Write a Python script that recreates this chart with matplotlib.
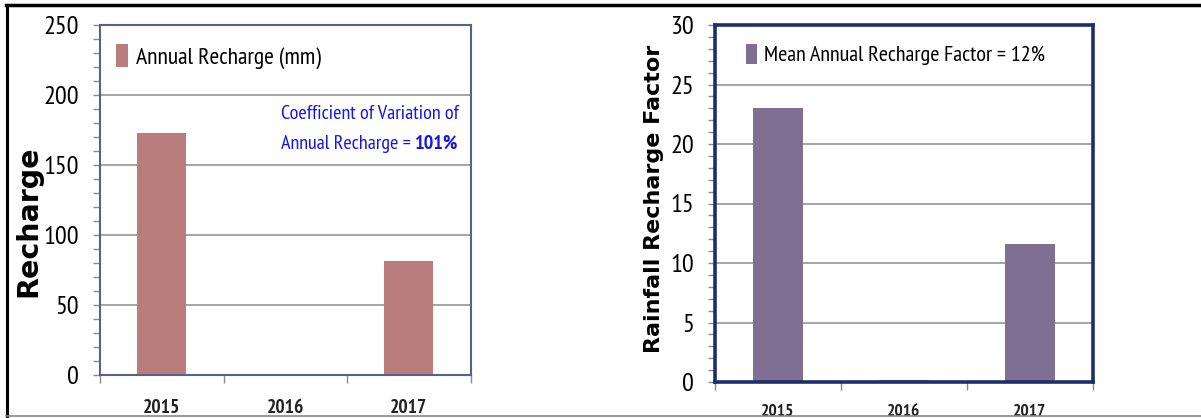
"""
Annual recharge and rainfall recharge factor, 2015-2017, side by side.
"""
import matplotlib
matplotlib.use('Agg')
import matplotlib.pyplot as plt
from matplotlib.lines import Line2D
from matplotlib.ticker import MultipleLocator, FixedLocator, NullFormatter

years = ['2015', '2016', '2017']
recharge_mm = [173, 0.5, 81.5]
recharge_factor = [23.0, 0.15, 11.6]

recharge_label = 'Annual Recharge (mm)'
factor_label = 'Mean Annual Recharge Factor = 12%'
cv_line1 = 'Coefficient of Variation of'
cv_line2 = 'Annual Recharge = '
cv_value = '101%'

plt.rcParams['font.family'] = ['PT Sans Narrow', 'Liberation Sans', 'DejaVu Sans']

fig = plt.figure(figsize=(12.01, 4.18), dpi=100)
W, H = 1201, 418


def make_axes(left, right, top, bottom):
    return fig.add_axes([left / W, 1 - bottom / H, (right - left) / W, (bottom - top) / H])


def style_axes(ax, ymax, major, minor, spine_color, spine_width, tick_size, year_size, year_pad):
    ax.set_xlim(-0.5, 2.5)
    ax.set_ylim(0, ymax)
    ax.yaxis.set_major_locator(MultipleLocator(major))
    ax.yaxis.set_minor_locator(MultipleLocator(minor))
    ax.set_yticks(range(0, ymax + 1, major))
    ax.tick_params(axis='y', which='major', direction='out', length=5, width=1,
                   color='#8a8a8a', labelsize=tick_size, pad=10)
    ax.tick_params(axis='y', which='minor', direction='out', length=5, width=1, color='#8a8a8a')
    ax.set_xticks(range(len(years)))
    ax.set_xticklabels(years, fontweight='bold', fontsize=year_size)
    ax.xaxis.set_minor_locator(FixedLocator([-0.5, 0.5, 1.5, 2.5]))
    ax.xaxis.set_minor_formatter(NullFormatter())
    ax.tick_params(axis='x', which='major', length=0, pad=year_pad, labelcolor='#222222')
    ax.tick_params(axis='x', which='minor', direction='out', length=6, width=1, color='#8a8a8a')
    for v in range(major, ymax, major):
        ax.axhline(v, color='#8c8c8c', lw=1.1, zorder=0)
    for s in ax.spines.values():
        s.set_color(spine_color)
        s.set_linewidth(spine_width)


# left panel: annual recharge
ax1 = make_axes(100, 470.5, 25, 375)
ax1.bar(range(len(years)), recharge_mm, width=0.4, color='#b97e7c', label=recharge_label, zorder=2)
style_axes(ax1, 250, 50, 10, '#55628a', 1.5, 19, 14, 17)
ax1.set_ylabel('Recharge', family='DejaVu Sans', fontweight='bold', fontsize=20.5)
ax1.yaxis.set_label_coords(-0.156, 0.44)
ax1.legend(loc='upper left', bbox_to_anchor=(0.005, 0.985), frameon=False, fontsize=17,
           handlelength=0.5, handleheight=1.1, handletextpad=0.35, borderaxespad=0.2)
ax1.text(0.489, 0.746, cv_line1, transform=ax1.transAxes, color='#1414f0',
         fontsize=14.5, ha='left', va='center')
t2 = ax1.text(0.489, 0.66, cv_line2, transform=ax1.transAxes, color='#1414f0',
              fontsize=14.5, ha='left', va='center')
ax1.annotate(cv_value, xy=(1, 0.5), xycoords=t2, va='center', ha='left',
             color='#1414f0', fontsize=14.5, fontweight='bold')

# right panel: rainfall recharge factor
ax2 = make_axes(715, 1093, 25, 382)
ax2.bar(range(len(years)), recharge_factor, width=0.4, color='#806e93', label=factor_label, zorder=2)
style_axes(ax2, 30, 5, 1, '#1b2f6e', 2.6, 19, 12.5, 16)
ax2.set_ylabel('Rainfall Recharge Factor', family='DejaVu Sans', fontweight='bold', fontsize=16)
ax2.yaxis.set_label_coords(-0.135, 0.513)
ax2.legend(loc='upper left', bbox_to_anchor=(0.047, 0.985), frameon=False, fontsize=16,
           handlelength=0.5, handleheight=1.0, handletextpad=0.3, borderaxespad=0.2)

# outer frame of the figure
fig.add_artist(Line2D([6 / W, 1], [1 - 5 / H, 1 - 5 / H], color='black', lw=2.5, zorder=10))
fig.add_artist(Line2D([6.5 / W, 6.5 / W], [0, 1 - 5 / H], color='black', lw=2.2, zorder=10))
fig.add_artist(Line2D([6 / W, 1], [2 / H, 2 / H], color='#888888', lw=1.2, zorder=10))

fig.savefig('out.png', dpi=100, facecolor='white')
